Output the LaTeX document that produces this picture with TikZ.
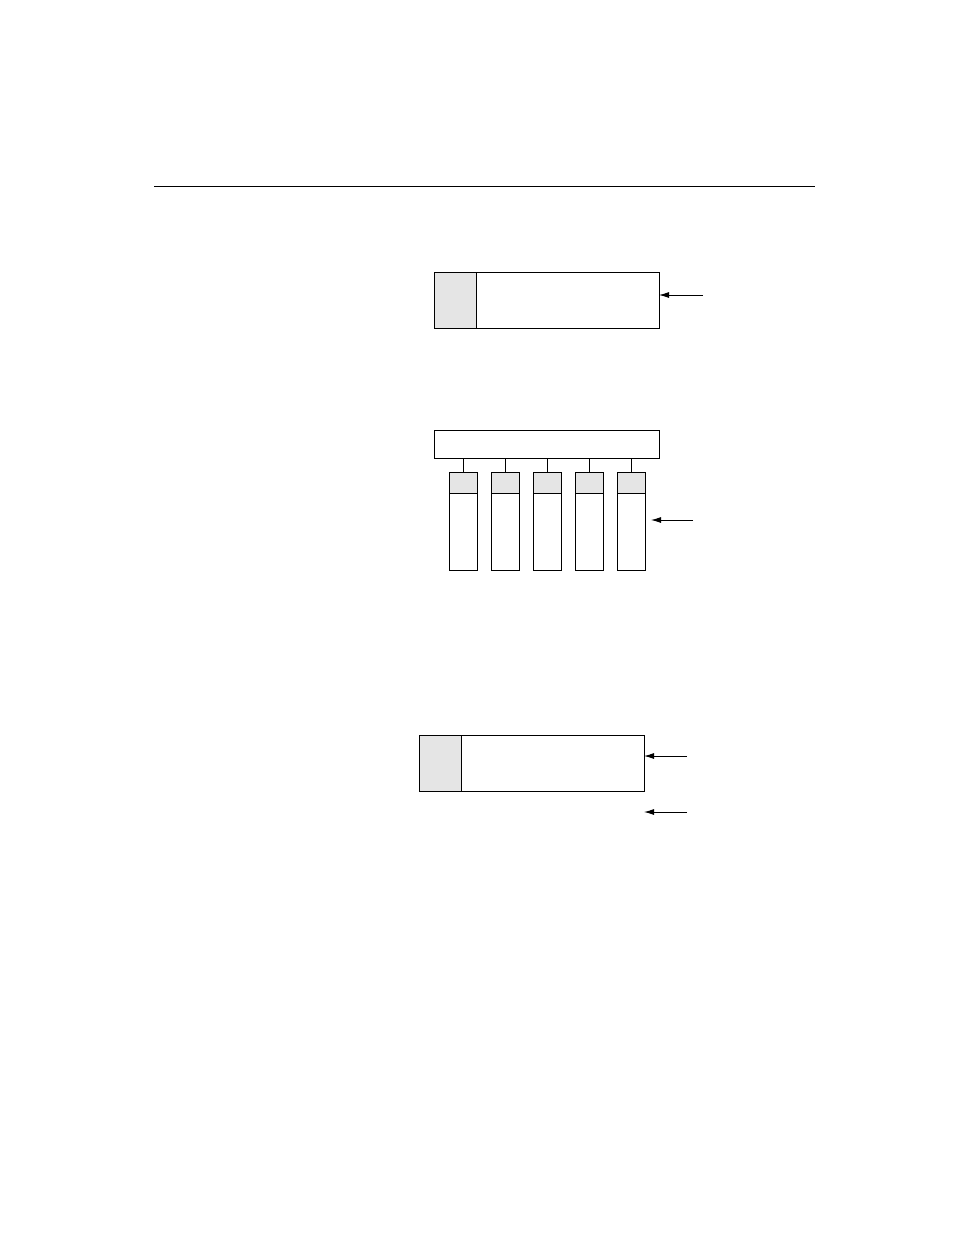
\documentclass[tikz,border=0pt]{standalone}
\usetikzlibrary{arrows.meta}
\begin{document}
\begin{tikzpicture}[x=1pt,y=-1pt,
  box/.style={draw=black,line width=1pt,fill=white,rectangle,inner sep=0pt,outer sep=0pt,anchor=north west},
  graybox/.style={box,fill=black!10},
  conn/.style={line width=0.9pt},
  ptr/.style={line width=0.9pt,-{Latex[length=10pt,width=6pt]}}]
\useasboundingbox (0,0) rectangle (954,1235);
% top rule
\coordinate (r1) at (154,186);
\coordinate (r2) at (815,186);
\draw[line width=0.9pt] (r1) -- (r2);
% top box
\node[box,minimum width=225pt,minimum height=56pt] (top) at (434,272) {};
\node[graybox,minimum width=42pt,minimum height=56pt] (topG) at (434,272) {};
\coordinate (topA) at (703,295);
\draw[ptr] (topA) -- (topA -| top.east);
% middle bar
\node[box,minimum width=225pt,minimum height=28pt] (bar) at (434,430) {};
\foreach \i in {0,...,4}{
  \pgfmathsetmacro{\xx}{449+42*\i}
  \node[box,minimum width=28pt,minimum height=98pt] (col\i) at (\xx,472) {};
  \node[graybox,minimum width=28pt,minimum height=21pt] (colG\i) at (\xx,472) {};
  \draw[conn] (col\i.north) -- (col\i.north |- bar.south);
}
\coordinate (midA) at (693,520);
\coordinate (midB) at (651,520);
\draw[ptr] (midA) -- (midB);
% bottom box
\node[box,minimum width=225pt,minimum height=56pt] (bot) at (419,735) {};
\node[graybox,minimum width=42pt,minimum height=56pt] (botG) at (419,735) {};
\coordinate (botA) at (687,756);
\draw[ptr] (botA) -- (botA -| bot.east);
\coordinate (botC) at (687,812);
\coordinate (botD) at (644,812);
\draw[ptr] (botC) -- (botD);
\end{tikzpicture}
\end{document}
